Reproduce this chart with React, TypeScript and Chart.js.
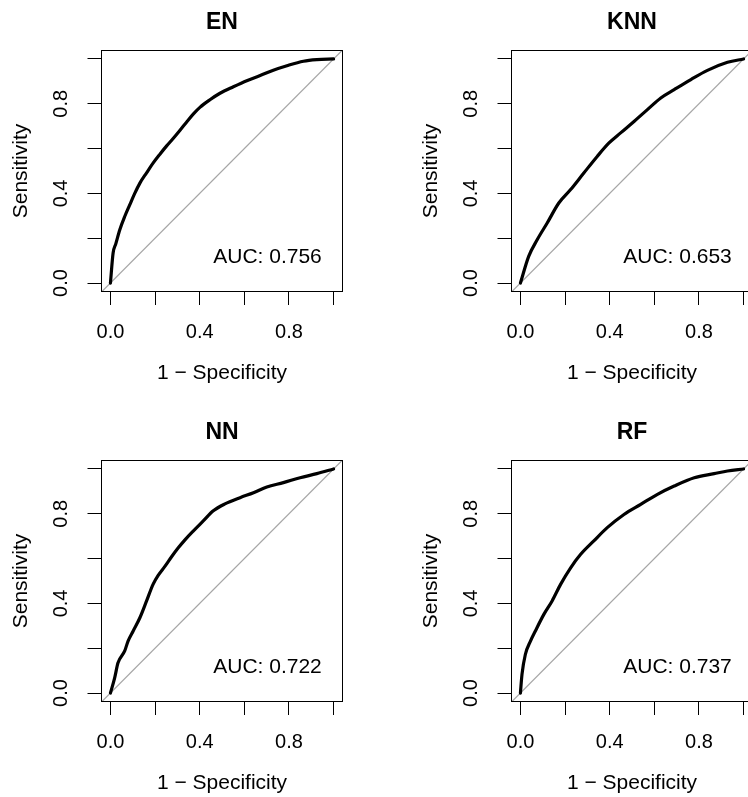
import React, { useEffect, useRef } from 'react';
import { Chart, registerables } from 'chart.js';

Chart.register(...registerables);

// ---------- data ----------
const PANEL_TITLES = ['EN', 'KNN', 'NN', 'RF'];
const AUC_LABELS = ['AUC: 0.756', 'AUC: 0.653', 'AUC: 0.722', 'AUC: 0.737'];
const AXIS_RANGE = [-0.04, 1.04];
const TICK_VALUES = [0, 0.2, 0.4, 0.6, 0.8, 1.0];
const LABELLED_TICKS = ['0.0', '0.4', '0.8'];
const AUC_POS = [0.704, 0.115];

const EN_FPR = [0, 0.012, 0.024, 0.042, 0.064, 0.087, 0.109, 0.132, 0.162, 0.191, 0.221, 0.252, 0.281, 0.311, 0.341, 0.371, 0.401, 0.446, 0.491, 0.551, 0.611, 0.671, 0.73, 0.791, 0.865, 0.925, 1.0];
const EN_TPR = [0, 0.134, 0.175, 0.238, 0.297, 0.35, 0.4, 0.446, 0.492, 0.535, 0.574, 0.612, 0.645, 0.681, 0.718, 0.754, 0.784, 0.818, 0.847, 0.876, 0.903, 0.926, 0.95, 0.97, 0.99, 0.997, 1.0];

const KNN_FPR = [0, 0.037, 0.075, 0.12, 0.172, 0.225, 0.284, 0.344, 0.397, 0.449, 0.509, 0.569, 0.629, 0.689, 0.764, 0.838, 0.928, 1.0];
const KNN_TPR = [0, 0.119, 0.193, 0.268, 0.357, 0.417, 0.491, 0.565, 0.625, 0.67, 0.721, 0.774, 0.826, 0.863, 0.908, 0.949, 0.985, 1.0];

const NN_FPR = [0, 0.019, 0.034, 0.064, 0.079, 0.102, 0.132, 0.162, 0.191, 0.214, 0.244, 0.274, 0.304, 0.336, 0.371, 0.416, 0.461, 0.513, 0.581, 0.641, 0.701, 0.775, 0.85, 0.925, 1.0];
const NN_TPR = [0, 0.068, 0.135, 0.188, 0.232, 0.277, 0.336, 0.411, 0.485, 0.525, 0.565, 0.608, 0.648, 0.686, 0.723, 0.768, 0.813, 0.844, 0.872, 0.894, 0.92, 0.939, 0.961, 0.979, 1.0];

const RF_FPR = [0, 0.007, 0.022, 0.045, 0.067, 0.105, 0.142, 0.18, 0.225, 0.27, 0.329, 0.389, 0.464, 0.539, 0.614, 0.689, 0.779, 0.868, 0.928, 1.0];
const RF_TPR = [0, 0.083, 0.172, 0.232, 0.277, 0.351, 0.411, 0.485, 0.559, 0.619, 0.679, 0.738, 0.797, 0.842, 0.887, 0.924, 0.961, 0.979, 0.991, 1.0];

const CURVES_FPR = [EN_FPR, KNN_FPR, NN_FPR, RF_FPR];
const CURVES_TPR = [EN_TPR, KNN_TPR, NN_TPR, RF_TPR];

// ---------- styling ----------
const FONT = '"Liberation Sans", Arial, Helvetica, sans-serif';
const PANEL = 410;

const boxPlugin = {
  id: 'rbox',
  afterDatasetsDraw(chart: any, _args: any, opts: any) {
    const { ctx, chartArea } = chart;
    const x1 = Math.floor(chartArea.left) + 0.5;
    const y1 = Math.floor(chartArea.top) + 0.5;
    const x2 = Math.ceil(chartArea.right) - 0.5;
    const y2 = Math.ceil(chartArea.bottom) - 0.5;
    ctx.save();
    ctx.strokeStyle = '#000';
    ctx.lineWidth = 1;
    ctx.strokeRect(x1, y1, x2 - x1, y2 - y1);
    const xs = chart.scales.x;
    const ys = chart.scales.y;
    ctx.font = `21px ${FONT}`;
    ctx.fillStyle = '#000';
    ctx.textAlign = 'center';
    ctx.textBaseline = 'middle';
    ctx.fillText(opts.text, xs.getPixelForValue(AUC_POS[0]), ys.getPixelForValue(AUC_POS[1]));
    ctx.restore();
  },
};

function tickLabel(value: number) {
  const s = Number(value).toFixed(1);
  return LABELLED_TICKS.includes(s) ? s : '';
}

function Panel({ index }: { index: number }) {
  const ref = useRef<HTMLCanvasElement | null>(null);
  useEffect(() => {
    if (!ref.current) return;
    const fpr = CURVES_FPR[index];
    const tpr = CURVES_TPR[index];
    const curve = fpr.map((x, i) => ({ x, y: tpr[i] }));
    const diag = AXIS_RANGE.map((v) => ({ x: v, y: v }));
    const chart = new Chart(ref.current, {
      type: 'scatter',
      data: {
        datasets: [
          {
            data: curve,
            showLine: true,
            borderColor: '#000',
            borderWidth: 3.2,
            pointRadius: 0,
            cubicInterpolationMode: 'monotone',
            borderJoinStyle: 'round',
            borderCapStyle: 'round',
          },
          {
            data: diag,
            showLine: true,
            borderColor: '#a6a6a6',
            borderWidth: 1.2,
            pointRadius: 0,
          },
        ],
      } as any,
      plugins: [boxPlugin],
      options: {
        animation: false,
        responsive: false,
        devicePixelRatio: 1,
        events: [],
        layout: { padding: { left: 0, top: 0, right: PANEL - 342.5, bottom: 0 } },
        plugins: {
          legend: { display: false },
          tooltip: { enabled: false },
          title: {
            display: true,
            text: PANEL_TITLES[index],
            fullSize: false,
            color: '#000',
            font: { family: FONT, size: 23, weight: 'bold', lineHeight: 1.2 },
            padding: { top: 9, bottom: 13.4 },
          },
          rbox: { text: AUC_LABELS[index] },
        } as any,
        scales: {
          x: {
            type: 'linear',
            min: AXIS_RANGE[0],
            max: AXIS_RANGE[1],
            afterFit: (s: any) => { s.height = PANEL - 292; },
            afterBuildTicks: (s: any) => { s.ticks = TICK_VALUES.map((v) => ({ value: v })); },
            border: { display: false },
            grid: { drawOnChartArea: false, drawTicks: true, tickLength: 13, tickColor: '#000', color: '#000', lineWidth: 1 },
            ticks: {
              autoSkip: false,
              maxRotation: 0,
              minRotation: 0,
              padding: 15,
              color: '#000',
              font: { family: FONT, size: 20 },
              callback: (v: any) => tickLabel(v),
            },
            title: {
              display: true,
              text: '1 \u2212 Specificity',
              color: '#000',
              font: { family: FONT, size: 21 },
              padding: { top: 0, bottom: 24.6 },
            },
          },
          y: {
            type: 'linear',
            min: AXIS_RANGE[0],
            max: AXIS_RANGE[1],
            afterFit: (s: any) => { s.width = 101.5; },
            afterBuildTicks: (s: any) => { s.ticks = TICK_VALUES.map((v) => ({ value: v })); },
            border: { display: false },
            grid: { drawOnChartArea: false, drawTicks: true, tickLength: 14, tickColor: '#000', color: '#000', lineWidth: 1 },
            ticks: {
              autoSkip: false,
              minRotation: 90,
              maxRotation: 90,
              crossAlign: 'center',
              padding: 12,
              color: '#000',
              font: { family: FONT, size: 20 },
              callback: (v: any) => tickLabel(v),
            },
            title: {
              display: true,
              text: 'Sensitivity',
              color: '#000',
              font: { family: FONT, size: 21 },
              padding: { top: 8.4, bottom: 0 },
            },
          },
        },
      } as any,
    });
    return () => chart.destroy();
  }, [index]);
  return <canvas ref={ref} width={PANEL} height={PANEL} style={{ display: 'block' }} />;
}

export default function App() {
  return (
    <div
      style={{
        position: 'absolute',
        left: 0,
        top: 0,
        width: 748,
        height: 797,
        overflow: 'hidden',
        background: '#fff',
      }}
    >
      {PANEL_TITLES.map((t, i) => (
        <div
          key={t}
          style={{
            position: 'absolute',
            left: (i % 2) * PANEL,
            top: Math.floor(i / 2) * PANEL,
            width: PANEL,
            height: PANEL,
          }}
        >
          <Panel index={i} />
        </div>
      ))}
    </div>
  );
}
